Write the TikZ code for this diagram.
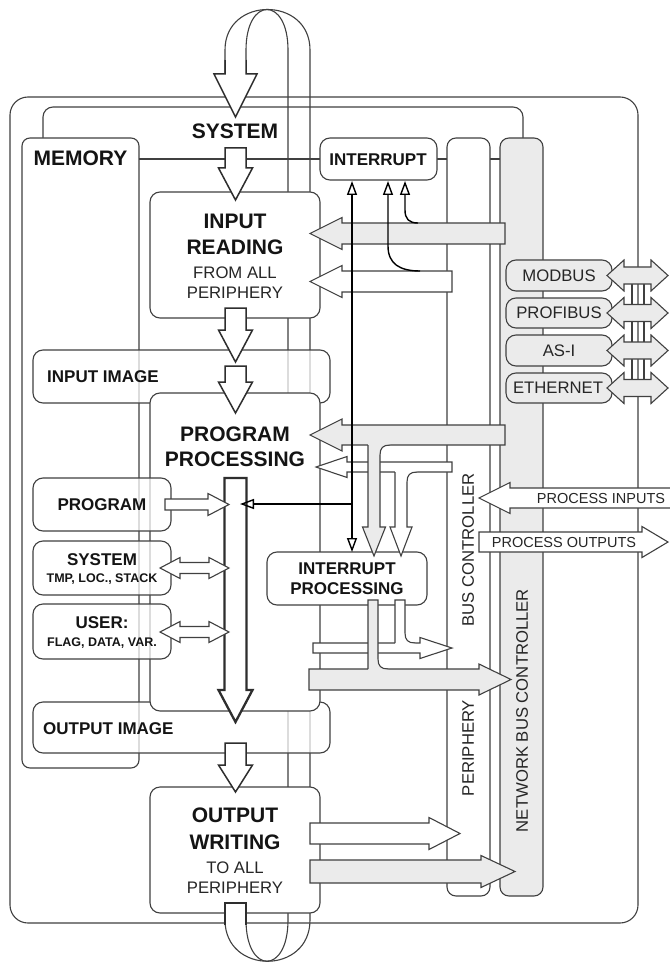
\documentclass[tikz,border=0pt]{standalone}
\usepackage{fontspec}
\setmainfont{Liberation Sans}
\usetikzlibrary{arrows.meta}

\definecolor{linec}{HTML}{404040}
\definecolor{grayf}{HTML}{EBEBEB}
\definecolor{inkc}{HTML}{141414}
\definecolor{softink}{HTML}{262626}

\newcommand\txtbig{\fontsize{21}{24}\selectfont\bfseries}
\newcommand\txtmid{\fontsize{17}{19}\selectfont\bfseries}
\newcommand\txtsm{\fontsize{12.5}{14}\selectfont\bfseries}
\newcommand\txtreg{\fontsize{16.7}{19}\selectfont}
\newcommand\txtproc{\fontsize{14.5}{16}\selectfont}

% rounded box node given by its corners: style, name, x1, y1, x2, y2
\newcommand\boxnode[6]{\node[#1, anchor=north west, minimum width={#5-#3}, minimum height={#6-#4}] (#2) at (#3,#4) {};}
% horizontal block arrow: style, tail x, tip x, centre y, shaft half, head half, head length (signed)
\newcommand\blkh[7]{\path[#1] ({#2},{#4-#5}) -- ({#3-(#7)},{#4-#5}) -- ({#3-(#7)},{#4-#6}) -- ({#3},{#4}) -- ({#3-(#7)},{#4+#6}) -- ({#3-(#7)},{#4+#5}) -- ({#2},{#4+#5}) -- cycle;}
% vertical block arrow pointing down: style, centre x, tail y, tip y, shaft half, head half, head length
\newcommand\blkv[7]{\path[#1] ({#2-#5},{#3}) -- ({#2-#5},{#4-(#7)}) -- ({#2-#6},{#4-(#7)}) -- ({#2},{#4}) -- ({#2+#6},{#4-(#7)}) -- ({#2+#5},{#4-(#7)}) -- ({#2+#5},{#3}) -- cycle;}
% double block arrow: style, left tip x, right tip x, centre y, shaft half, head half, head length
\newcommand\blkd[7]{\path[#1] ({#2},{#4}) -- ({#2+#7},{#4-#6}) -- ({#2+#7},{#4-#5}) -- ({#3-#7},{#4-#5}) -- ({#3-#7},{#4-#6}) -- ({#3},{#4}) -- ({#3-#7},{#4+#6}) -- ({#3-#7},{#4+#5}) -- ({#2+#7},{#4+#5}) -- ({#2+#7},{#4+#6}) -- cycle;}
% branch leaving the lower edge of a horizontal arrow and pointing down:
% fill, left x, right x, edge y, head half, head base y, tip y, x where the right edge meets
\newcommand\joindown[8]{%
 \fill[#1] ({#2},{#4-2}) -- ({#2},{#6}) -- ({(#2+#3)/2-#5},{#6}) -- ({(#2+#3)/2},{#7}) -- ({(#2+#3)/2+#5},{#6}) -- ({#3},{#6}) -- ({#3},{#4+10}) .. controls ({#3},{#4+3}) and ({#3+3},{#4}) .. ({#8},{#4}) -- ({#8},{#4-2}) -- cycle;
 \draw[wire, line join=miter] ({#2},{#4}) -- ({#2},{#6}) -- ({(#2+#3)/2-#5},{#6}) -- ({(#2+#3)/2},{#7}) -- ({(#2+#3)/2+#5},{#6}) -- ({#3},{#6}) -- ({#3},{#4+10}) .. controls ({#3},{#4+3}) and ({#3+3},{#4}) .. ({#8},{#4});}
% band running down into the upper edge of a horizontal arrow:
% fill, left x, right x, top y, edge y, x where the right edge meets
\newcommand\joinup[6]{%
 \fill[#1] ({#2},{#4}) -- ({#2},{#5+2}) -- ({#6},{#5+2}) -- ({#6},{#5}) .. controls ({#3+3},{#5}) and ({#3},{#5-3}) .. ({#3},{#5-10}) -- ({#3},{#4}) -- cycle;
 \draw[wire] ({#2},{#5}) -- ({#2},{#4}) -- ({#3},{#4}) -- ({#3},{#5-10}) .. controls ({#3},{#5-3}) and ({#3+3},{#5}) .. ({#6},{#5});}

\tikzset{
  wire/.style={draw=linec, line width=1.1pt},
  frame/.style={draw=linec, line width=1.1pt, fill=white, inner sep=0pt, outer sep=0pt, rounded corners=10pt},
  glass/.style={frame, fill opacity=0.72},
  grayframe/.style={frame, fill=grayf},
  warr/.style={draw=linec, fill=white, line width=1.1pt, line join=miter},
  garr/.style={warr, fill=grayf},
  bigarr/.style={draw=black!82, fill=white, line width=1.5pt, line join=miter},
  intl/.style={draw=black, line width=1.4pt},
  lbl/.style={inner sep=0pt, text depth=0pt, text=inkc},
  rlbl/.style={lbl, text=softink},
  otri/.tip={Triangle[open, length=14pt, width=10pt]}
}

\begin{document}
\begin{tikzpicture}[x=1pt,y=-1pt]
\useasboundingbox (0,0) rectangle (669,965);
\fill[white] (0,0) rectangle (669,965);

% PLC outline and the system frame
\boxnode{frame, rounded corners=18pt}{plc}{10}{97}{638}{923}
\draw[wire, rounded corners=10pt] (43,138) -- (43,107) -- (523,107) -- (523,138);

% return path of the scan cycle (ribbon behind the blocks)
\draw[wire] (225,74) -- (225,50) .. controls (225,-4) and (310,-4) .. (310,50) -- (310,920) .. controls (310,975) and (225,975) .. (225,920);
\draw[wire] (246,74) -- (246,50) .. controls (246,-4) and (288,-4) .. (288,50) -- (288,920) .. controls (288,975) and (246,975) .. (246,920);

% memory and the internal link line
\boxnode{frame, rounded corners=8pt}{memory}{22}{138}{139}{768}
\draw[wire] (memory.east |- 0,159) -- (500,159);

% bus columns
\boxnode{frame, rounded corners=9pt}{pbus}{447}{138}{490}{896}
\boxnode{grayframe, rounded corners=9pt}{nbus}{500}{138}{543}{896}

% process images
\boxnode{glass}{inimg}{33}{350}{330}{403}
\boxnode{glass}{outimg}{33}{702}{330}{753}

% cycle stages
\boxnode{frame}{inread}{150}{192}{320}{318}
\boxnode{frame}{progproc}{150}{393}{320}{711}
\boxnode{frame}{outwrite}{150}{787}{320}{913}

% memory areas
\boxnode{glass}{mprog}{33}{478}{171}{531}
\boxnode{glass}{msys}{33}{541}{171}{595}
\boxnode{glass}{muser}{33}{604}{171}{659}

% interrupt blocks
\boxnode{frame}{intr}{320}{138}{437}{180}
\boxnode{frame}{iproc}{267}{552}{427}{605}

% fieldbus interfaces
\draw[wire] (632,276) -- (632,388) (644,276) -- (644,388);
\boxnode{grayframe}{modbus}{506}{260}{612}{291}
\boxnode{grayframe}{profibus}{506}{298}{612}{328}
\boxnode{grayframe}{asi}{506}{335}{612}{366}
\boxnode{grayframe}{ethernet}{506}{373}{612}{403}
\blkd{garr}{607}{668}{275.5}{8.5}{15.5}{17}
\blkd{garr}{607}{668}{313}{8.5}{15.5}{17}
\blkd{garr}{607}{668}{350.5}{8.5}{15.5}{17}
\blkd{garr}{607}{668}{388}{8.5}{15.5}{17}

% scan cycle arrows
\path[bigarr] (225,60) -- (225,74) -- (214,74) -- (235.5,117) -- (257,74) -- (246,74) -- (246,60);
\blkv{bigarr}{235.5}{148}{200}{10.5}{17}{32}
\blkv{bigarr}{235.5}{308}{362}{10.5}{17}{32}
\blkv{bigarr}{235.5}{366}{413}{10.5}{17}{31}
\blkv{bigarr, line width=2.3pt}{235.5}{478}{722}{11}{17}{32}
\blkv{bigarr}{235.5}{743}{792}{10.5}{17}{27}
\path[bigarr] (225,925) -- (225,903) -- (246,903) -- (246,925);

% inputs read from the buses
\blkh{garr}{505}{310}{233.5}{10.5}{16}{-32}
\blkh{warr}{452}{310}{281.5}{10.5}{16}{-32}
\blkh{garr}{505}{310}{435}{10}{16}{-32}
\blkh{warr}{452}{316}{467}{5}{10.5}{-31}
\joindown{white}{395}{407}{472}{11}{527}{556}{417}
\joindown{grayf}{368}{380}{445}{11.5}{527}{556}{390}

% outputs of the interrupt processing
\blkh{warr}{313}{452}{648}{5}{10.5}{32}
\blkh{garr}{309}{511}{679.5}{10.5}{15.5}{32}
\joinup{white}{395}{405}{600}{643}{415}
\joinup{grayf}{368}{378}{600}{669}{388}

% outputs written to the buses
\blkh{warr}{310}{460}{833.5}{10.5}{16}{31}
\blkh{garr}{310}{515}{871.5}{11.5}{16}{34}

% field signals
\blkh{warr}{672}{479}{498}{10}{15.5}{-31}
\blkh{warr}{479}{668}{542}{10}{15.5}{26}

% memory access from the program
\blkh{warr}{165}{229}{504.5}{5.5}{11}{21}
\blkd{warr}{160}{229}{568}{5.5}{10.5}{20}
\blkd{warr}{160}{229}{632}{5.5}{10.5}{20}

% interrupt signalling
\draw[intl, {otri}-{otri}] (352,181) -- (352,552);
\draw[intl, -{otri}] (352,504) -- (240,504);
\draw[intl, {otri}-] (388,181) -- (388,246) .. controls (388,264) and (400,271) .. (420,271);
\draw[intl, {otri}-] (405,181) -- (405,210) .. controls (405,219) and (409,223) .. (418,223);

% labels
\node[lbl, font=\txtbig] (tsys) at (235,131) {SYSTEM};
\node[lbl, font=\txtbig] (tmem) at (80.5,158) {MEMORY};
\node[lbl, font=\txtmid] (tint) at (378,159.5) {INTERRUPT};

\node[lbl, font=\txtbig] (tin1) at (235,221) {INPUT};
\node[lbl, font=\txtbig] (tin2) at (235,247.5) {READING};
\node[rlbl, font=\txtreg] (tin3) at (235,272.5) {FROM ALL};
\node[rlbl, font=\txtreg] (tin4) at (235,293) {PERIPHERY};

\node[lbl, font=\txtmid, anchor=west] (tinimg) at (47,377) {INPUT IMAGE};
\node[lbl, font=\txtmid, anchor=west] (toutimg) at (43,729) {OUTPUT IMAGE};

\node[lbl, font=\txtbig] (tpp1) at (235,434.5) {PROGRAM};
\node[lbl, font=\txtbig] (tpp2) at (235,459.5) {PROCESSING};

\node[lbl, font=\txtmid] (tmprog) at (102,504.5) {PROGRAM};
\node[lbl, font=\txtmid] (tmsys) at (102,559.5) {SYSTEM};
\node[lbl, font=\txtsm] (tmsys2) at (102,578) {TMP, LOC., STACK};
\node[lbl, font=\txtmid] (tmuser) at (102,623) {USER:};
\node[lbl, font=\txtsm] (tmuser2) at (102,642.5) {FLAG, DATA, VAR.};

\node[lbl, font=\txtmid] (tip1) at (347,568.5) {INTERRUPT};
\node[lbl, font=\txtmid] (tip2) at (347,588.5) {PROCESSING};

\node[lbl, font=\txtbig] (tow1) at (235,815.5) {OUTPUT};
\node[lbl, font=\txtbig] (tow2) at (235,842.5) {WRITING};
\node[rlbl, font=\txtreg] (tow3) at (235,868) {TO ALL};
\node[rlbl, font=\txtreg] (tow4) at (235,888) {PERIPHERY};

\node[rlbl, font=\txtreg] (tmodbus) at (559,275.5) {MODBUS};
\node[rlbl, font=\txtreg] (tprofibus) at (559,313) {PROFIBUS};
\node[rlbl, font=\txtreg] (tasi) at (559,350.5) {AS-I};
\node[rlbl, font=\txtreg] (teth) at (558,388) {ETHERNET};

\node[rlbl, font=\txtproc] (tpin) at (601,498) {PROCESS INPUTS};
\node[rlbl, font=\txtproc] (tpout) at (564,542) {PROCESS OUTPUTS};

\node[rlbl, font=\txtreg, rotate=90] (tbus) at (468,550) {BUS CONTROLLER};
\node[rlbl, font=\txtreg, rotate=90] (tper) at (468,748) {PERIPHERY};
\node[rlbl, font=\txtreg, rotate=90] (tnet) at (522,710.5) {NETWORK BUS CONTROLLER};
\end{tikzpicture}
\end{document}
